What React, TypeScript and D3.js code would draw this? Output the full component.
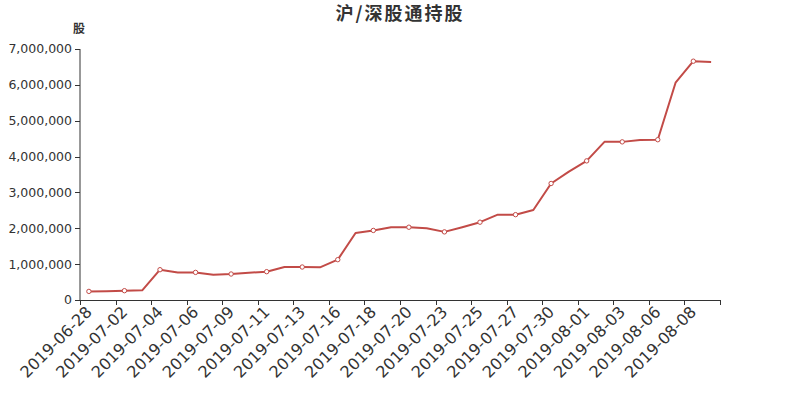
import React from "react";
import * as d3 from "d3";

const dates = [
  "2019-06-28","2019-07-01","2019-07-02","2019-07-03","2019-07-04","2019-07-05",
  "2019-07-06","2019-07-08","2019-07-09","2019-07-10","2019-07-11","2019-07-12",
  "2019-07-13","2019-07-15","2019-07-16","2019-07-17","2019-07-18","2019-07-19",
  "2019-07-20","2019-07-22","2019-07-23","2019-07-24","2019-07-25","2019-07-26",
  "2019-07-27","2019-07-29","2019-07-30","2019-07-31","2019-08-01","2019-08-02",
  "2019-08-03","2019-08-05","2019-08-06","2019-08-07","2019-08-08","2019-08-09",
];

const holdings = [
  240000, 245000, 260000, 270000, 845000, 770000,
  770000, 705000, 725000, 760000, 790000, 920000,
  920000, 910000, 1125000, 1870000, 1940000, 2030000,
  2030000, 2000000, 1900000, 2030000, 2170000, 2380000,
  2380000, 2510000, 3250000, 3580000, 3880000, 4410000,
  4410000, 4460000, 4470000, 6060000, 6660000, 6640000,
];

const yTicks = [0, 1000000, 2000000, 3000000, 4000000, 5000000, 6000000, 7000000];

const title = "沪/深股通持股";
const yName = "股";

export default function App() {
  const W = 800, H = 400;
  const left = 80, right = 720, top = 49, bottom = 300;
  const color = "#c24b47";
  const font = "'DejaVu Sans', sans-serif";

  const x = d3.scaleBand<string>().domain(dates).range([left, right]).padding(0);
  const y = d3.scaleLinear().domain([0, 7000000]).range([bottom, top]);
  const cx = (d: string) => (x(d) as number) + x.bandwidth() / 2;

  const line = d3.line<number>()
    .x((_, i) => cx(dates[i]))
    .y((v) => y(v));

  const fmt = d3.format(",");
  const tickIdx = d3.range(0, dates.length + 1, 2);

  return (
    <svg width={W} height={H} style={{ position: "absolute", left: 0, top: 0, fontFamily: font }}>
      <rect width={W} height={H} fill="#fff" />
      <text x={400} y={20} textAnchor="middle" fontSize={18} fontWeight="bold" fill="#333"
        fontFamily="'Noto Sans CJK SC', sans-serif" letterSpacing={2}>{title}</text>
      <text x={79} y={33} textAnchor="middle" fontSize={12} fontWeight="bold" fill="#333"
        fontFamily="'Noto Sans CJK SC', sans-serif">{yName}</text>

      {/* y axis */}
      <line x1={left} x2={left} y1={top} y2={bottom} stroke="#333" />
      {yTicks.map((t) => (
        <g key={t}>
          <line x1={left - 5} x2={left} y1={Math.round(y(t)) + 0.5} y2={Math.round(y(t)) + 0.5} stroke="#333" />
          <text x={left - 8} y={y(t)} dy="0.35em" textAnchor="end" fontSize={12.5} fill="#333">{fmt(t)}</text>
        </g>
      ))}

      {/* x axis */}
      <line x1={left} x2={right} y1={bottom + 0.5} y2={bottom + 0.5} stroke="#333" />
      {tickIdx.map((i) => {
        const px = Math.round(left + i * x.bandwidth()) + 0.5;
        return <line key={i} x1={px} x2={px} y1={bottom} y2={bottom + 5} stroke="#333" />;
      })}
      {dates.map((d, i) =>
        i % 2 === 0 ? (
          <text key={d} transform={`translate(${cx(d)},${bottom + 9}) rotate(-45)`}
            textAnchor="end" dy="0.35em" fontSize={16} fill="#333">{d}</text>
        ) : null
      )}

      <path d={line(holdings) || ""} fill="none" stroke={color} strokeWidth={2} strokeLinejoin="round" />
      {holdings.map((v, i) =>
        i % 2 === 0 ? (
          <circle key={i} cx={cx(dates[i])} cy={y(v)} r={2.2} fill="#fff" stroke={color} strokeWidth={1} />
        ) : null
      )}
    </svg>
  );
}
